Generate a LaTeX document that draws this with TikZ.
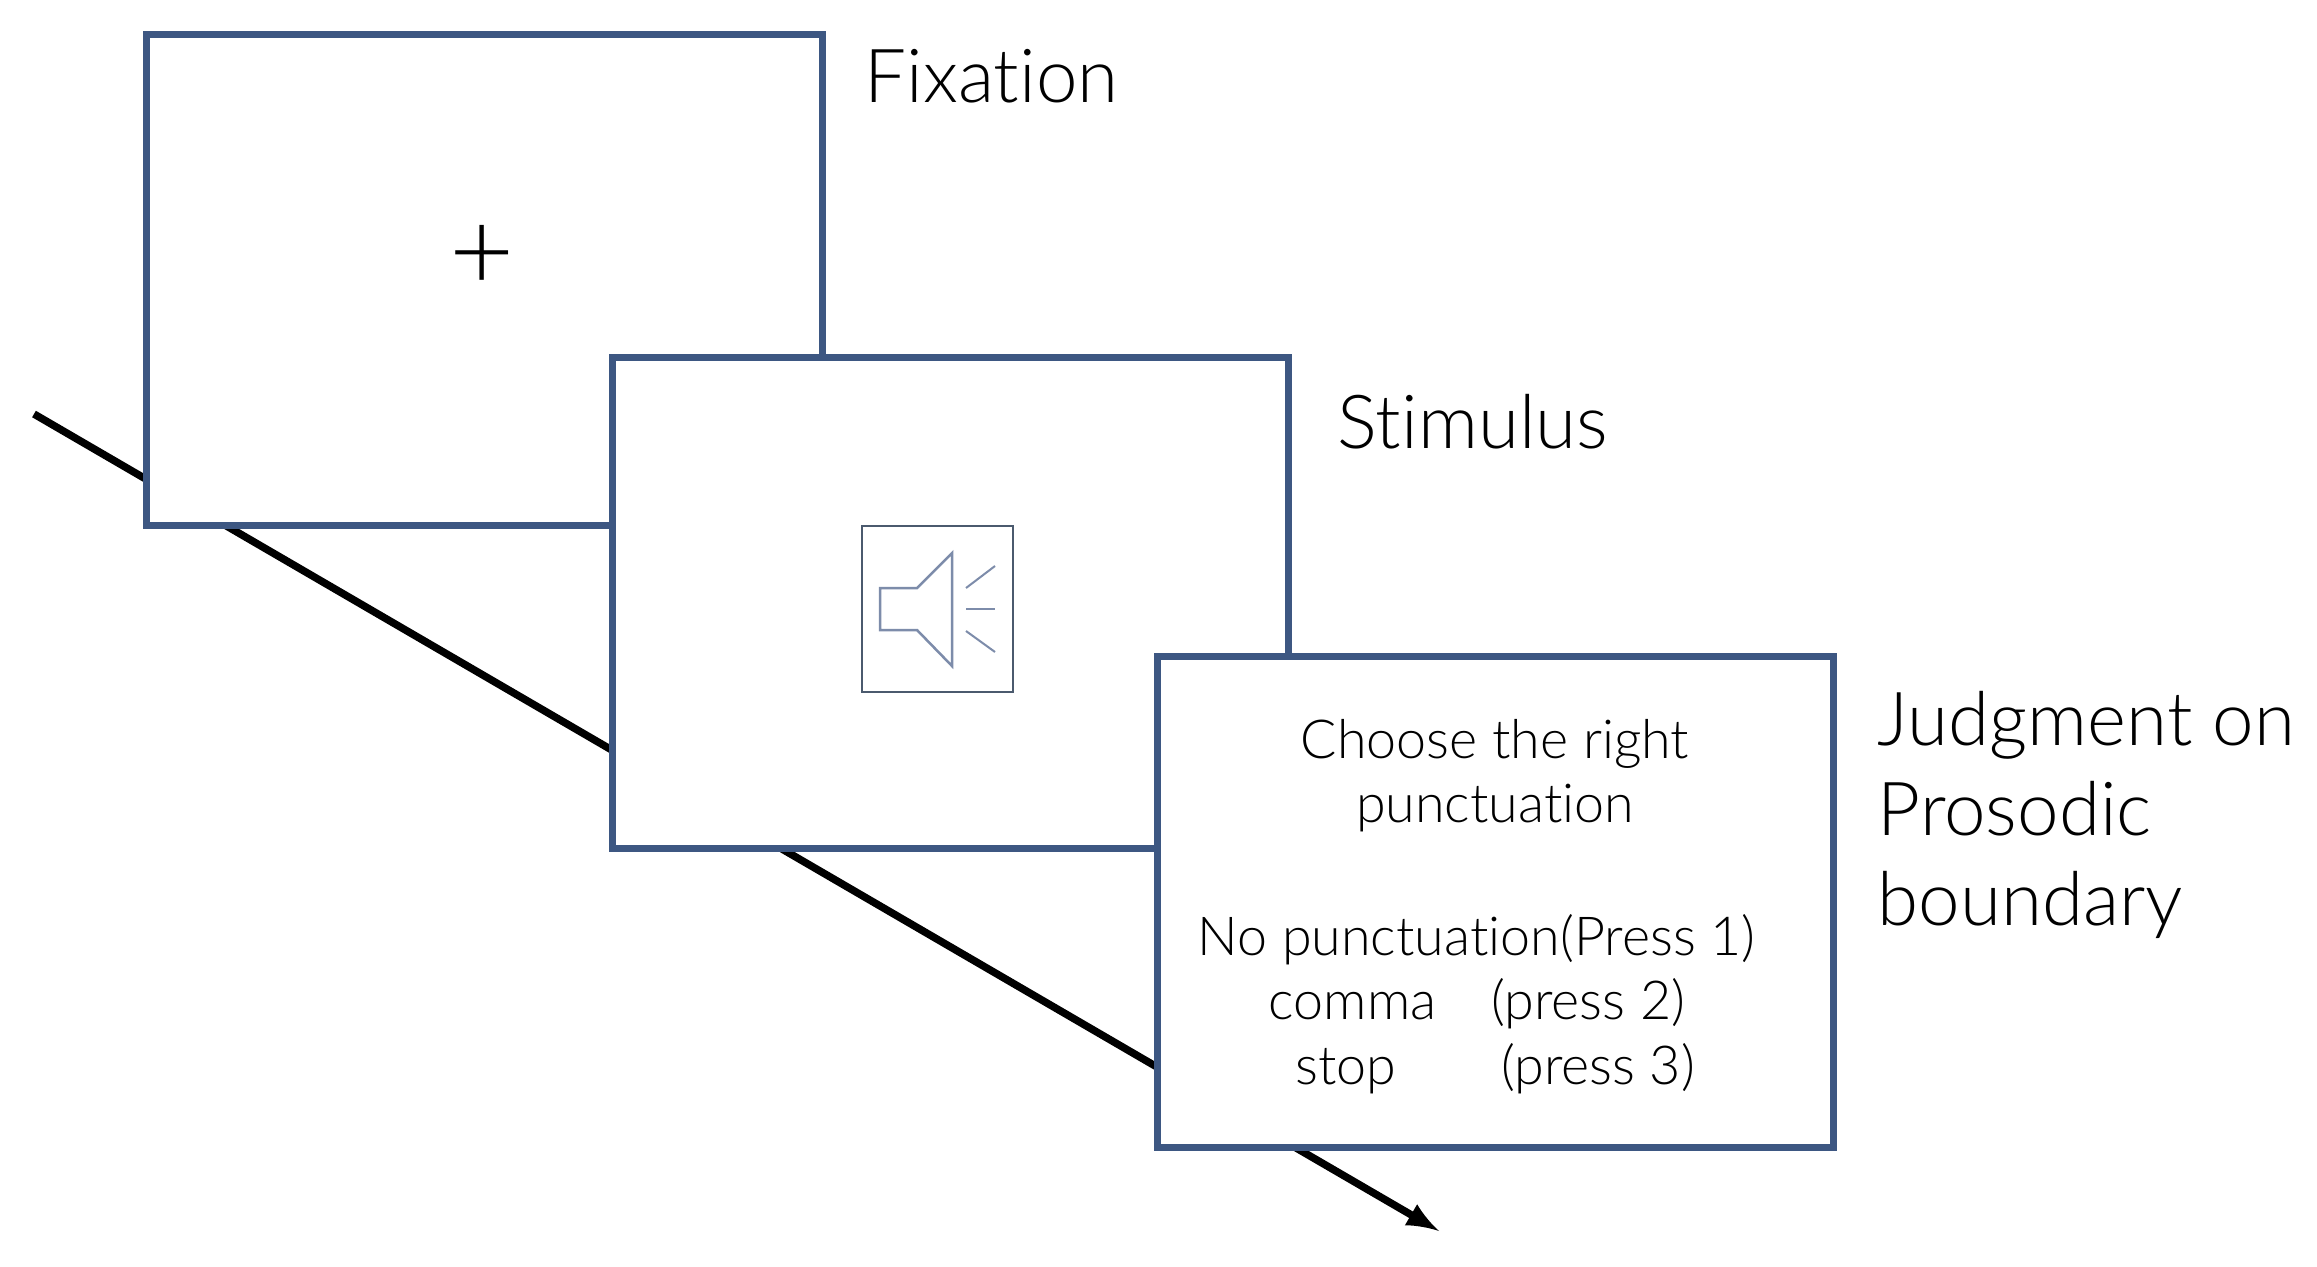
\documentclass[tikz,border=0pt]{standalone}
\usepackage{fontspec}
\setmainfont{Lato}[UprightFont={* Light}, Ligatures=NoCommon]
\usepackage{tikz}
\usetikzlibrary{arrows, calc}
\definecolor{bordure}{RGB}{61,87,130}
\definecolor{icone}{RGB}{125,140,170}
\definecolor{cadre}{RGB}{75,90,110}
\tikzstyle{ecran} = [
    rectangle,
    minimum width = 6.76cm,
    minimum height = 4.91cm,
    outer sep = 0pt,
    text centered,
    draw = bordure,
    fill = white,
    line width = 0.7mm,
]
\tikzstyle{legende} = [
    anchor = base west,
    inner sep = 0pt,
    align = left,
    font = \fontsize{21.2}{25.5}\selectfont,
]
\tikzstyle{consigne} = [
    inner sep = 0pt,
    align = center,
    font = \fontsize{15.3}{18.4}\selectfont,
]
\begin{document}
\begin{tikzpicture} [x = 0.1mm, y = -0.1mm, >=latex]
    \useasboundingbox (0, 0) rectangle (2317, 1266);

    \coordinate (Debut) at (34, 414);
    \coordinate (Fin) at (1439, 1231);
    \draw[->, line width = 0.75mm] (Debut) -- (Fin);

    \node (Fixation) [ecran] at (484, 280) {};
    \node (Croix) [font = \fontsize{32}{32}\selectfont, inner sep = 0pt] at (482, 258) {+};
    \node (FixationTexte) [legende] at (864, 102) {Fixation};

    \node (Stimulus) [ecran] at (950.5, 603) {};
    \node (HautParleur) [rectangle, minimum width = 15.1mm, minimum height = 16.6mm, outer sep = 0pt, draw = cadre, line width = 0.25mm] at (937.5, 609) {};
    \draw[icone, line width = 0.25mm] (880, 588) -- (917, 588) -- (952, 553) -- (952, 666) -- (917, 630) -- (880, 630) -- cycle;
    \draw[icone, line width = 0.2mm] (966, 588) -- (995, 566);
    \draw[icone, line width = 0.2mm] (966, 609) -- (995, 609);
    \draw[icone, line width = 0.2mm] (966, 631) -- (995, 652);
    \node (StimulusTexte) [legende] at (1337, 448) {Stimulus};

    \node (Jugement) [ecran] at (1495, 902) {};
    \node (Consigne) [consigne] at (1495, 906.5) {Choose the right\\punctuation\\[19.3pt]No punctuation(Press 1)\hspace*{3.7mm}\mbox{}\\comma\hspace{5.5mm}(press 2)\hspace*{3.6mm}\mbox{}\\stop\hspace{10.5mm}(press 3)};
    \node (JugementTexte) [legende] at (1877, 925) {Judgment on\\Prosodic\\boundary};
\end{tikzpicture}
\end{document}
